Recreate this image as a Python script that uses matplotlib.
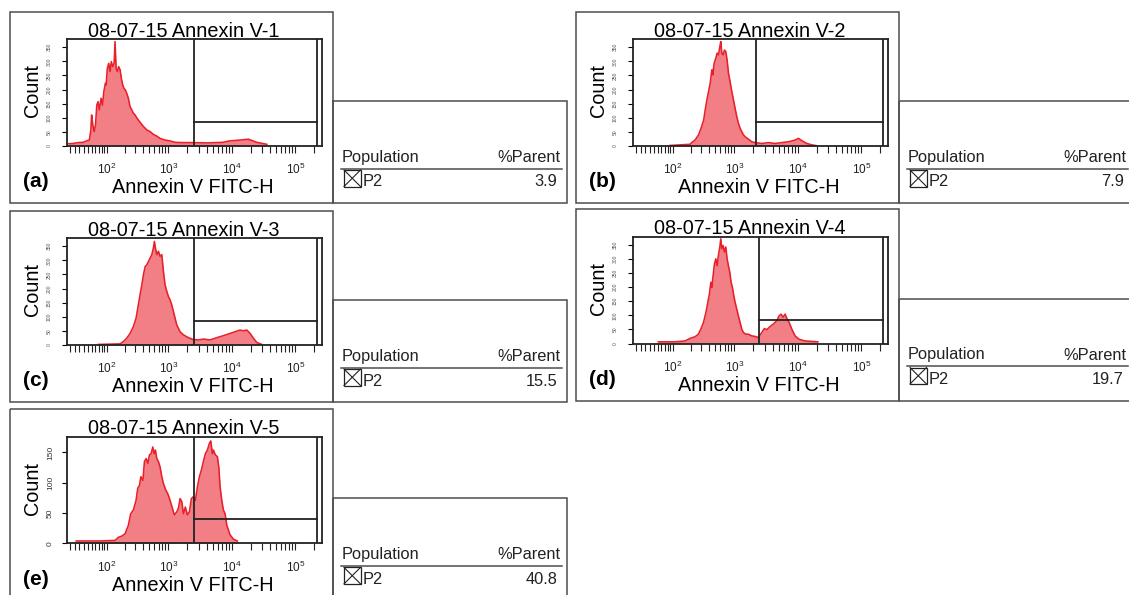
import numpy as np
import matplotlib.pyplot as plt
from matplotlib.patches import Rectangle

plt.rcParams['font.family'] = ['Liberation Sans', 'DejaVu Sans']
plt.rcParams['mathtext.fontset'] = 'custom'
plt.rcParams['mathtext.rm'] = 'Liberation Sans'
plt.rcParams['mathtext.it'] = 'Liberation Sans:italic'
plt.rcParams['mathtext.bf'] = 'Liberation Sans:bold'

# ---- data ----
x_a = [-3, 7, 17, 28, 36, 43, 47, 49, 52, 56, 60, 64, 68, 72, 78, 83, 88, 94, 97, 102,
       108, 114, 120, 127, 134, 139, 145, 152, 160, 169, 177, 187, 196, 206, 217, 231,
       246, 262, 278, 296, 315, 334, 356, 403, 456, 514, 580, 656, 740, 887, 1064, 1276,
       1726, 2480, 4040, 7210, 9290, 13360, 18280, 24780, 35650]
n_a = [8, 9, 12, 13, 18, 21, 57, 110, 77, 51, 74, 145, 157, 128, 169, 145, 193, 222, 216, 275,
       293, 264, 299, 281, 293, 370, 275, 264, 281, 270, 240, 216, 204, 199, 187, 169,
       139, 128, 116, 110, 100, 92, 84, 69, 57, 51, 41, 35, 27, 21, 18, 13,
       12, 12, 11, 13, 18, 21, 24, 13, 6]

x_b = [89, 196, 209, 237, 269, 296, 326, 345, 367, 390, 414, 440, 456, 478, 509, 533, 561,
       589, 610, 633, 663, 698, 732, 767, 807, 855, 910, 968, 1026, 1091, 1160, 1230, 1308,
       1392, 1475, 1669, 1881, 2121, 2705, 3451, 4385, 5593, 7135, 9066, 10260, 11560,
       13870, 16630, 19940]
n_b = [2, 6, 12, 21, 39, 63, 92, 128, 163, 193, 222, 270, 252, 293, 311, 329, 323,
       352, 370, 329, 323, 340, 334, 305, 258, 228, 193, 163, 134, 104, 80, 63, 51,
       39, 33, 24, 15, 12, 9, 12, 9, 12, 15, 21, 27, 19,
       9, 4, 1]

x_c = [69, 169, 191, 217, 246, 278, 307, 334, 356, 380, 403, 429, 456, 484, 514, 547, 580,
       601, 624, 656, 696, 740, 787, 834, 887, 944, 1000, 1064, 1131, 1199, 1276, 1357,
       1529, 1726, 2068, 2480, 2973, 3565, 4548, 5800, 7370, 9400, 11270, 13520, 15240,
       17240, 19440, 21910, 24790, 29730]
n_c = [2, 4, 12, 24, 41, 65, 95, 142, 178, 213, 249, 278, 284, 296, 308, 320, 344,
       367, 344, 320, 332, 314, 320, 261, 213, 190, 172, 160, 142, 119, 95, 71,
       47, 36, 26, 19, 18, 21, 18, 26, 33, 41, 47, 53, 50,
       53, 41, 24, 9, 2]

x_d = [51, 109, 162, 196, 237, 268, 296, 324, 354, 380, 403, 424, 440, 461, 484, 509, 533,
       559, 589, 610, 633, 663, 696, 732, 767, 804, 846, 887, 930, 978, 1026, 1091, 1156,
       1230, 1308, 1387, 1513, 1663, 1881, 2121, 2390, 2705, 2973, 3243, 3658, 4123, 4665,
       5070, 5452, 5863, 6304, 6780, 7290, 8044, 9066, 10480, 13040, 20680]
n_d = [6, 6, 9, 18, 24, 33, 53, 75, 110, 146, 176, 217, 199, 241, 282, 300, 276,
       312, 342, 371, 336, 347, 324, 342, 300, 276, 253, 217, 199, 170, 146, 122, 98,
       75, 51, 39, 33, 33, 27, 25, 21, 39, 53, 49, 60, 69, 81,
       98, 104, 93, 104, 87, 75, 51, 27, 15, 9, 6]

x_e = [13, 74, 139, 158, 180, 204, 231, 252, 278, 307, 327, 349, 367, 395, 418, 445, 473,
       502, 533, 567, 595, 624, 656, 696, 740, 787, 834, 910, 978, 1064, 1156, 1243, 1357,
       1438, 1529, 1627, 1726, 1854, 1994, 2144, 2306, 2480, 2667, 2867, 3083, 3315, 3565,
       3833, 4123, 4434, 4665, 4944, 5127, 5512, 5928, 6237, 6540, 6955, 7370, 7840, 8340,
       9400, 10600, 12260]
n_e = [4, 4, 5, 10, 12, 16, 30, 49, 55, 71, 91, 96, 110, 104, 135, 140, 132,
       146, 148, 159, 148, 154, 140, 135, 126, 110, 99, 88, 82, 71, 58, 47, 52,
       58, 74, 69, 49, 60, 47, 52, 74, 77, 71, 93, 110, 121, 135,
       148, 154, 165, 169, 148, 154, 146, 143, 126, 93, 71, 55, 49, 30,
       14, 7, 4]

titles = ['08-07-15 Annexin V-1', '08-07-15 Annexin V-2', '08-07-15 Annexin V-3',
          '08-07-15 Annexin V-4', '08-07-15 Annexin V-5']
tags = ['(a)', '(b)', '(c)', '(d)', '(e)']
pct_parent = ['3.9', '7.9', '15.5', '19.7', '40.8']
gate_lo = [2540, 2200, 2540, 2480, 2540]
gate_hi = 217000
gate_level = [84, 84, 84, 84, 40]
y_top = [378, 378, 378, 378, 176]
y_ticks = [[0, 50, 100, 150, 200, 250, 300, 350]] * 4 + [[0, 50, 100, 150]]

series = [(x_a, n_a), (x_b, n_b), (x_c, n_c), (x_d, n_d), (x_e, n_e)]

# panel offsets in pixels (x, y) relative to panel (a)
offsets = [(0, 0), (566, 0), (0, 199), (566, 197.5), (0, 397.4)]

W, H = 1129, 595
FILL = '#F17F85'
LINE = '#E8202A'
BOX = '#4d4d4d'


def fwd(v):
    return np.arcsinh(np.asarray(v, dtype=float) / 56.0) / np.log(10)


def inv(u):
    return 56.0 * np.sinh(np.asarray(u, dtype=float) * np.log(10))


fig = plt.figure(figsize=(W / 100, H / 100), dpi=100)
fig.patch.set_facecolor('white')

# overlay in pixel coordinates for frames and text
ov = fig.add_axes([0, 0, 1, 1])
ov.set_xlim(0, W)
ov.set_ylim(H, 0)
ov.axis('off')
ov.patch.set_alpha(0)

minor = ([0] + list(range(10, 100, 10)) + list(range(200, 1000, 100)) +
         list(range(2000, 10000, 1000)) + list(range(20000, 100000, 10000)) + [200000])

for i, ((xs, ns), (ox, oy)) in enumerate(zip(series, offsets)):
    # outer frame of the plot panel
    ov.add_patch(Rectangle((9.5 + ox, 11.7 + oy), 323.8, 191.3, fill=False,
                           edgecolor=BOX, lw=1.1))
    # statistics table frame
    ov.add_patch(Rectangle((333.3 + ox, 101 + oy), 233.4, 102, fill=False,
                           edgecolor=BOX, lw=1.1))

    left, right = 66.7 + ox, 321.8 + ox
    top, bottom = 39.3 + oy, 146 + oy
    ax = fig.add_axes([left / W, 1 - bottom / H, (right - left) / W, (bottom - top) / H])
    ax.set_xscale('function', functions=(fwd, inv))
    ax.fill_between(xs, ns, 0, color=FILL, lw=0, zorder=1)
    ax.plot(xs, ns, color=LINE, lw=1.15, zorder=2)

    ymax = y_top[i]
    g0 = gate_lo[i]
    ax.plot([g0, g0], [0, ymax], color='#222222', lw=1.3, zorder=3)
    ax.plot([gate_hi, gate_hi], [0, ymax], color='#222222', lw=1.3, zorder=3)
    ax.plot([g0, gate_hi], [gate_level[i], gate_level[i]], color='#222222', lw=1.3, zorder=3)

    ax.set_xlim(-6.4, 262143)
    ax.set_ylim(0, ymax)
    ax.set_xticks([100, 1000, 10000, 100000])
    ax.set_xticklabels([r'$10^2$', r'$10^3$', r'$10^4$', r'$10^5$'])
    ax.set_xticks(minor, minor=True)
    ax.tick_params(axis='x', which='both', direction='out', length=5, width=0.8,
                   labelsize=8.5, pad=6.5, colors='#222222')

    ax.set_yticks(y_ticks[i])
    ax.set_yticklabels([str(t) for t in y_ticks[i]])
    small = i < 4
    ax.tick_params(axis='y', direction='out', length=3.6, width=0.8,
                   labelsize=3.6 if small else 6, pad=7 if small else 5.5,
                   labelrotation=90, labelcolor='#555555' if small else '#333333')
    for lab in ax.get_yticklabels():
        lab.set_va('center')
    for s in ax.spines.values():
        s.set_linewidth(1.3)
        s.set_color('#222222')

    # panel texts
    ov.text(183.3 + ox, 36.7 + oy, titles[i], ha='center', va='baseline', fontsize=14.3)
    ov.text(192.7 + ox, 193.3 + oy, 'Annexin V FITC-H', ha='center', va='baseline',
            fontsize=14.3)
    ov.text(32.5 + ox, (top + bottom) / 2 - 2, 'Count', rotation=90, ha='center',
            va='center', fontsize=14.3)
    ov.text(246.7 + ox, 66.7 + oy, 'P2', ha='left', va='baseline', fontsize=14.3)
    ov.text(23 + ox, 187.3 + oy, tags[i], ha='left', va='baseline', fontsize=15,
            fontweight='bold')

    # table contents
    ov.text(342 + ox, 162 + oy, 'Population', ha='left', va='baseline', fontsize=11.8,
            color='#222222')
    ov.text(560 + ox, 162 + oy, '%Parent', ha='right', va='baseline', fontsize=11.8,
            color='#222222')
    ov.plot([341 + ox, 562 + ox], [168.5 + oy, 168.5 + oy], color=BOX, lw=1.1)
    bx, by, bs = 344 + ox, 170 + oy, 16.5
    ov.add_patch(Rectangle((bx, by), bs, bs, fill=False, edgecolor='#222222', lw=0.9))
    ov.plot([bx, bx + bs], [by, by + bs], color='#222222', lw=0.8)
    ov.plot([bx, bx + bs], [by + bs, by], color='#222222', lw=0.8)
    ov.text(362.5 + ox, 186.5 + oy, 'P2', ha='left', va='baseline', fontsize=11.8,
            color='#222222')
    ov.text(557.5 + ox, 186.5 + oy, pct_parent[i], ha='right', va='baseline',
            fontsize=11.8, color='#222222')

fig.savefig('out.png', dpi=100, facecolor='white')
